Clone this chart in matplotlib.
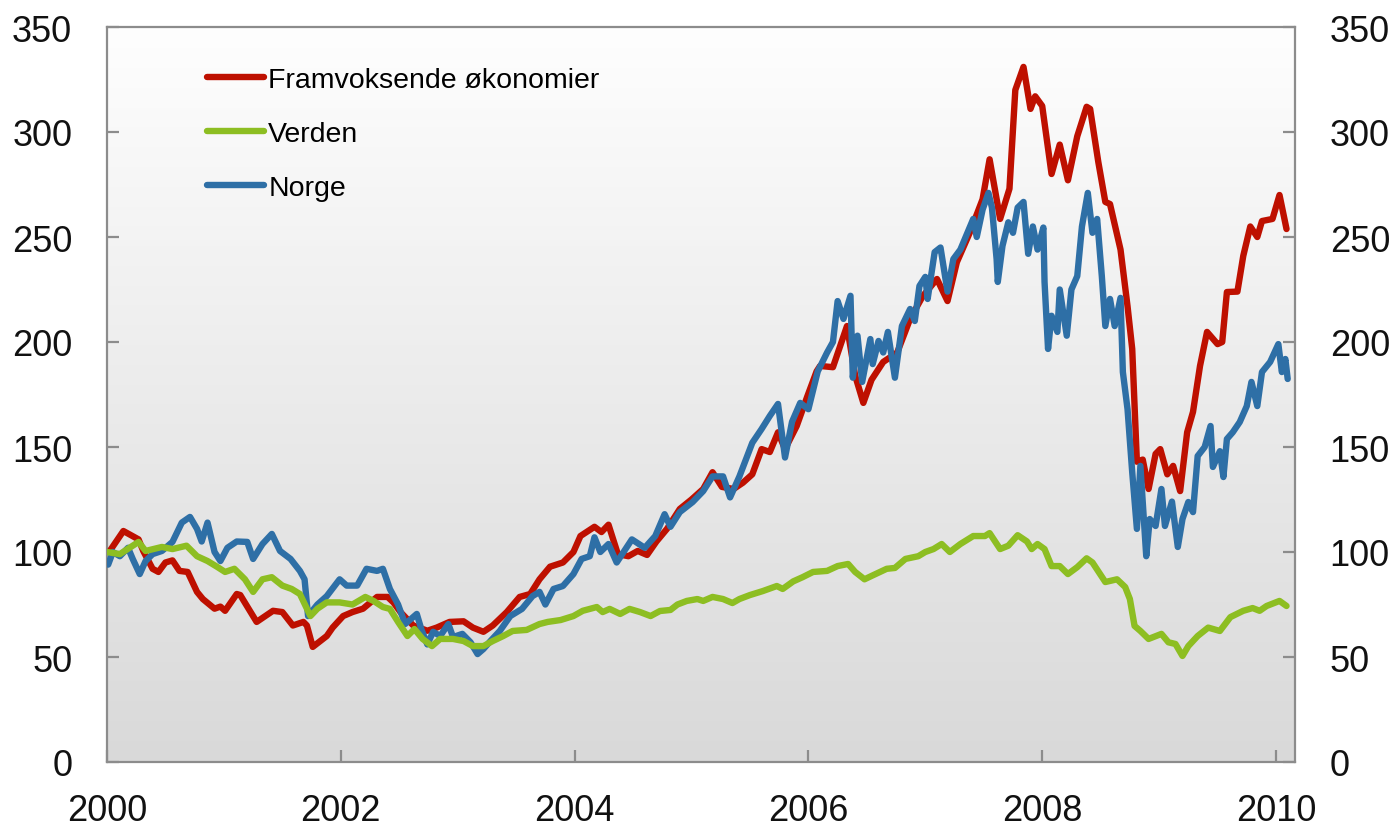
import numpy as np
import matplotlib
matplotlib.use("Agg")
import matplotlib.pyplot as plt
from matplotlib.colors import LinearSegmentedColormap

plt.rcParams['font.family'] = ['Liberation Sans', 'DejaVu Sans']

# ---------------- data (decimal years, index values) ----------------
series_names = ["Framvoksende økonomier", "Verden", "Norge"]

red_t = [2000.03, 2000.14, 2000.27, 2000.31, 2000.39, 2000.44, 2000.50, 2000.56, 2000.62, 2000.69,
         2000.77, 2000.82, 2000.92, 2000.97, 2001.01, 2001.11, 2001.14, 2001.28, 2001.42, 2001.50,
         2001.59, 2001.68, 2001.71, 2001.76, 2001.88, 2001.93, 2002.02, 2002.10, 2002.19, 2002.31,
         2002.40, 2002.45, 2002.51, 2002.62, 2002.74, 2002.82, 2002.93, 2003.05, 2003.13, 2003.22,
         2003.30, 2003.42, 2003.53, 2003.62, 2003.70, 2003.79, 2003.90, 2003.99, 2004.05, 2004.17,
         2004.23, 2004.29, 2004.37, 2004.46, 2004.54, 2004.62, 2004.70, 2004.79, 2004.90, 2005.00,
         2005.10, 2005.18, 2005.26, 2005.36, 2005.44, 2005.52, 2005.60, 2005.67, 2005.74, 2005.80,
         2005.90, 2005.99, 2006.07, 2006.10, 2006.21, 2006.33, 2006.40, 2006.47, 2006.54, 2006.64,
         2006.76, 2006.87, 2006.98, 2007.10, 2007.19, 2007.27, 2007.38, 2007.49, 2007.55, 2007.64,
         2007.72, 2007.77, 2007.84, 2007.90, 2007.94, 2008.00, 2008.08, 2008.15, 2008.22, 2008.30,
         2008.38, 2008.41, 2008.48, 2008.54, 2008.58, 2008.67, 2008.73, 2008.77, 2008.81, 2008.86,
         2008.91, 2008.97, 2009.01, 2009.07, 2009.12, 2009.18, 2009.24, 2009.29, 2009.35, 2009.41,
         2009.50, 2009.54, 2009.58, 2009.67, 2009.72, 2009.78, 2009.84, 2009.88, 2009.97, 2010.03,
         2010.09]
red_v = [101, 110, 106, 100.5, 92, 90.5, 95, 96, 91, 90.5,
         81, 77.6, 73, 74, 72, 80, 79.5, 66.7, 72, 71.4,
         65, 66.7, 65, 54.8, 60, 64, 69.5, 71.4, 73, 78.6,
         78.6, 76, 71.4, 65, 62.5, 64, 66.7, 67, 64, 62,
         65, 71.4, 78.6, 80, 87, 93, 95, 100, 107.6, 112,
         109.5, 113, 99, 98, 100.5, 98.6, 105, 111, 120.5, 125,
         130, 138, 131, 130, 133, 137, 149, 147.6, 157, 149,
         160, 174, 186, 188.6, 188, 207.6, 184, 171, 182, 190.5,
         195, 211, 222, 230, 219.5, 238, 252, 268, 287, 258.6,
         273, 320, 331, 311, 317, 312.4, 280, 294, 277, 298,
         312, 311, 285.7, 266.7, 265.7, 244, 217, 196.7, 143, 144,
         130, 146.7, 149, 137, 141, 129, 157, 166.7, 188.6, 204.8,
         199, 200, 223.8, 224, 241, 255, 250, 257.6, 258.6, 270,
         253.8]

green_t = [2000.00, 2000.11, 2000.27, 2000.33, 2000.47, 2000.56, 2000.68, 2000.77, 2000.86, 2000.94,
           2001.01, 2001.09, 2001.18, 2001.25, 2001.33, 2001.41, 2001.50, 2001.58, 2001.65, 2001.74,
           2001.80, 2001.88, 2001.99, 2002.10, 2002.21, 2002.28, 2002.36, 2002.42, 2002.49, 2002.57,
           2002.63, 2002.70, 2002.78, 2002.85, 2002.96, 2003.05, 2003.13, 2003.22, 2003.30, 2003.39,
           2003.47, 2003.59, 2003.70, 2003.77, 2003.88, 2003.99, 2004.07, 2004.19, 2004.24, 2004.30,
           2004.39, 2004.47, 2004.56, 2004.65, 2004.73, 2004.82, 2004.88, 2004.96, 2005.05, 2005.10,
           2005.18, 2005.27, 2005.35, 2005.41, 2005.50, 2005.61, 2005.73, 2005.78, 2005.87, 2005.95,
           2006.04, 2006.16, 2006.25, 2006.34, 2006.40, 2006.48, 2006.54, 2006.67, 2006.74, 2006.83,
           2006.94, 2007.00, 2007.07, 2007.14, 2007.21, 2007.30, 2007.41, 2007.51, 2007.55, 2007.64,
           2007.71, 2007.79, 2007.87, 2007.91, 2007.96, 2008.02, 2008.08, 2008.15, 2008.22, 2008.30,
           2008.38, 2008.43, 2008.54, 2008.64, 2008.71, 2008.75, 2008.79, 2008.84, 2008.91, 2009.02,
           2009.08, 2009.14, 2009.20, 2009.25, 2009.33, 2009.42, 2009.52, 2009.61, 2009.72, 2009.80,
           2009.86, 2009.92, 2010.03, 2010.09]
green_v = [100, 99, 104.8, 100.5, 102.4, 101.4, 103, 98, 95.7, 93,
           90.5, 92, 87, 81, 87, 88, 84, 82.4, 80, 69.5,
           73, 76, 76, 75, 78.6, 76.7, 73.8, 72.9, 66.7, 60,
           63.3, 58.6, 55.2, 58.6, 58.6, 57.6, 55.2, 55.2, 57.6, 60,
           62.4, 62.9, 65.7, 66.7, 67.6, 69.5, 72, 73.8, 71.4, 72.9,
           70.5, 72.9, 71.4, 69.5, 71.9, 72.4, 75, 76.7, 77.6, 76.7,
           78.6, 77.6, 75.7, 77.6, 79.5, 81.4, 83.8, 82.4, 86, 88,
           90.5, 91, 93.3, 94.3, 90.5, 87, 88.6, 92, 92.4, 96.7,
           98, 100, 101.4, 103.8, 100, 103.8, 107.6, 107.6, 109, 101.4,
           103, 108, 105, 101.4, 103.8, 101.4, 93.3, 93.3, 89.5, 92.8,
           97, 95, 85.7, 87, 83.3, 77.6, 64.8, 62.4, 58.6, 61,
           57, 56.2, 50.5, 55.2, 60, 64, 62.4, 69, 72, 73.3,
           72, 74.3, 76.7, 74.3]

blue_t = [2000.01, 2000.05, 2000.11, 2000.18, 2000.22, 2000.28, 2000.33, 2000.39, 2000.47, 2000.56,
          2000.64, 2000.71, 2000.77, 2000.81, 2000.86, 2000.92, 2000.97, 2001.03, 2001.11, 2001.20,
          2001.25, 2001.33, 2001.41, 2001.48, 2001.57, 2001.65, 2001.69, 2001.72, 2001.80, 2001.88,
          2001.99, 2002.05, 2002.14, 2002.22, 2002.31, 2002.36, 2002.42, 2002.49, 2002.55, 2002.65,
          2002.69, 2002.74, 2002.79, 2002.85, 2002.92, 2002.96, 2003.04, 2003.11, 2003.17, 2003.22,
          2003.28, 2003.36, 2003.45, 2003.55, 2003.64, 2003.70, 2003.75, 2003.82, 2003.90, 2003.99,
          2004.06, 2004.13, 2004.17, 2004.22, 2004.29, 2004.36, 2004.49, 2004.60, 2004.69, 2004.77,
          2004.82, 2004.90, 2005.01, 2005.10, 2005.18, 2005.27, 2005.33, 2005.41, 2005.52, 2005.60,
          2005.67, 2005.74, 2005.80, 2005.86, 2005.93, 2006.00, 2006.08, 2006.16, 2006.21, 2006.25,
          2006.30, 2006.36, 2006.38, 2006.42, 2006.46, 2006.53, 2006.55, 2006.60, 2006.64, 2006.68,
          2006.74, 2006.80, 2006.87, 2006.91, 2006.95, 2007.00, 2007.02, 2007.08, 2007.13, 2007.19,
          2007.24, 2007.30, 2007.36, 2007.41, 2007.44, 2007.49, 2007.54, 2007.57, 2007.61, 2007.62,
          2007.66, 2007.71, 2007.75, 2007.79, 2007.84, 2007.88, 2007.92, 2007.96, 2008.01, 2008.02,
          2008.05, 2008.08, 2008.13, 2008.15, 2008.21, 2008.25, 2008.30, 2008.34, 2008.39, 2008.43,
          2008.47, 2008.51, 2008.54, 2008.58, 2008.62, 2008.67, 2008.69, 2008.73, 2008.77, 2008.81,
          2008.84, 2008.89, 2008.92, 2008.97, 2009.02, 2009.05, 2009.11, 2009.16, 2009.20, 2009.25,
          2009.29, 2009.33, 2009.39, 2009.44, 2009.46, 2009.52, 2009.55, 2009.58, 2009.63, 2009.69,
          2009.75, 2009.79, 2009.84, 2009.88, 2009.95, 2010.02, 2010.05, 2010.08, 2010.10]
blue_v = [94, 100, 98, 102, 96.7, 89.5, 95.7, 99, 100.5, 104.8,
          114, 116.7, 111, 105, 114, 100, 95.7, 102, 105, 104.8,
          96.7, 103.8, 108.6, 100.5, 96.7, 91, 87, 69.5, 75, 79,
          87, 84, 84, 92, 91, 92, 82.4, 75, 65.7, 70.5,
          63, 56, 62, 60, 65.7, 59.5, 61, 57, 51.4, 53.8,
          57.6, 62.4, 69.5, 72.9, 79, 81, 75, 82.4, 83.8, 89.5,
          96.7, 98, 107, 100, 103.8, 95, 106, 102, 107.6, 118,
          112, 119, 123.8, 129, 136, 136, 126, 136, 152, 158.6,
          164.8, 170.5, 145, 162, 171, 168, 186, 195, 200, 219.5,
          211, 222, 183, 203, 181, 201.4, 189.5, 200.5, 195, 204.8,
          183, 207.6, 215.7, 210, 226.7, 231, 220.5, 242.8, 245, 224,
          239.5, 244, 252, 258.6, 250, 263, 271, 264, 239.5, 228.6,
          245.7, 257, 252, 264, 266.7, 242, 255, 244, 254.5, 228.6,
          196.7, 212.5, 204.8, 225, 203, 225, 231.4, 255, 271, 252,
          258.6, 231.4, 207.6, 220.5, 207.6, 221, 185.7, 168, 138, 111,
          141, 98, 115.7, 112.4, 130, 112.4, 124, 102.4, 115.7, 123.8,
          119, 145.7, 150, 160, 140.5, 148, 135.7, 153.8, 157, 161.9,
          169.5, 181, 169.5, 185.7, 190.5, 199, 185.7, 191.9, 182.4]

x_ticks = [2000, 2002, 2004, 2006, 2008, 2010]
y_ticks = [0, 50, 100, 150, 200, 250, 300, 350]

# ---------------- styling ----------------
RED = "#BE1000"
GREEN = "#8DBE22"
BLUE = "#2E6FA6"
SPINE = "#8C8C8C"

W, H = 1397, 829
fig = plt.figure(figsize=(W / 100, H / 100), dpi=100)
ax = fig.add_axes([107 / W, 1 - 763 / H, (1295 - 107) / W, (763 - 28) / H])

# background gradient
grad = np.linspace(0, 1, 256).reshape(-1, 1)
cmap = LinearSegmentedColormap.from_list("bg", ["#FEFEFE", "#D9D9D9"])
ax.imshow(grad, cmap=cmap, aspect="auto", extent=[0, 1, 0, 1],
          transform=ax.transAxes, zorder=0, interpolation="bicubic")

lw = 4.6
kw = dict(solid_joinstyle="round", solid_capstyle="round", zorder=3)
l_red, = ax.plot(red_t, red_v, color=RED, lw=lw, **kw)
l_blue, = ax.plot(blue_t, blue_v, color=BLUE, lw=lw, **kw)
l_green, = ax.plot(green_t, green_v, color=GREEN, lw=lw, **kw)

ax.set_xlim(2000, 2000 + (1295 - 107) / 116.9)
ax.set_ylim(0, 350)

ax.set_xticks(x_ticks)
ax.set_xticklabels([str(t) for t in x_ticks])
ax.set_yticks(y_ticks)
ax.set_yticklabels([str(v) for v in y_ticks])

for s in ax.spines.values():
    s.set_color(SPINE)
    s.set_linewidth(1.6)

ax.tick_params(axis="both", direction="in", length=8.5, width=1.6, color=SPINE,
               labelsize=26, labelcolor="#111111", pad=25)
ax.tick_params(axis="y", left=True, right=True, labelleft=True, labelright=True)
ax.tick_params(axis="x", pad=22)

leg = ax.legend([l_red, l_green, l_blue], series_names, loc="upper left",
                bbox_to_anchor=(207 / W, 1 - 68 / H), bbox_transform=fig.transFigure,
                frameon=False, fontsize=20.5, handlelength=2.0, handletextpad=0.15,
                labelspacing=0.98, borderpad=0, borderaxespad=0)
for line in leg.get_lines():
    line.set_linewidth(4.6)
    line.set_solid_capstyle("round")

fig.savefig("out.png", dpi=100)
